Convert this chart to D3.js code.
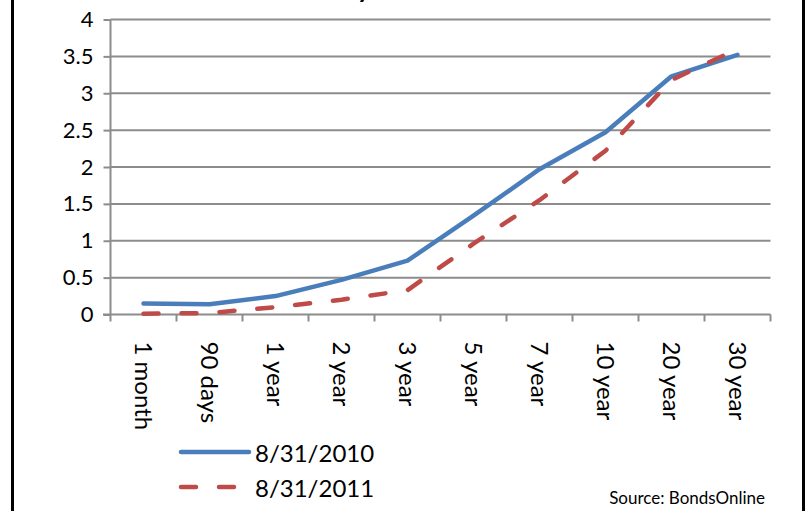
<!DOCTYPE html>
<html>
<head>
<meta charset="utf-8">
<script src="https://cdn.jsdelivr.net/npm/d3@7"></script>
<style>
  body { margin: 0; background: #fff; }
  text { font-family: Lato, "Open Sans", sans-serif; fill: #000; }
</style>
</head>
<body>
<script>
// treasury yields
var maturities = ["1 month", "90 days", "1 year", "2 year", "3 year", "5 year", "7 year", "10 year", "20 year", "30 year"];
var yields2010 = [0.15, 0.14, 0.25, 0.47, 0.73, 1.34, 1.97, 2.47, 3.23, 3.52];
var yields2011 = [0.01, 0.02, 0.10, 0.20, 0.33, 0.96, 1.55, 2.22, 3.18, 3.60];
var yTicks = [0, 0.5, 1, 1.5, 2, 2.5, 3, 3.5, 4];
var seriesNames = ["8/31/2010", "8/31/2011"];

var W = 805, H = 511;
var svg = d3.select("body").append("svg")
  .attr("width", W)
  .attr("height", H);

// outer frame, only left and right edges are inside the picture
svg.append("rect").attr("x", 11).attr("y", 0).attr("width", 3).attr("height", H).attr("fill", "#000");
svg.append("rect").attr("x", 802).attr("y", 0).attr("width", 3).attr("height", H).attr("fill", "#000");

var x = d3.scaleBand()
  .domain(maturities)
  .range([110.5, 770.5]);

var y = d3.scaleLinear()
  .domain([0, 4])
  .range([314.5, 19.5]);

// title, almost all of it above the top of the picture
var title = svg.append("text")
  .attr("y", -2)
  .style("font-size", "26px")
  .style("font-weight", "bold")
  .text("Treasury Yield Curve");
// put the y of "Treasury" where the cut-off descender shows
var wT = title.node().getSubStringLength(0, 7);
title.attr("x", 357 - wT);

// gridlines
svg.append("g")
  .selectAll("line")
  .data(yTicks.slice(1))
  .enter().append("line")
  .attr("x1", 110.5)
  .attr("x2", 770.5)
  .attr("y1", d => y(d))
  .attr("y2", d => y(d))
  .attr("stroke", "#8c8c8c")
  .attr("stroke-width", 2);

// y axis
var yAxis = d3.axisLeft(y)
  .tickValues(yTicks)
  .tickSize(7)
  .tickPadding(10)
  .tickFormat(d3.format("~g"));

var gy = svg.append("g")
  .attr("transform", "translate(110.5,0)")
  .call(yAxis);
gy.select(".domain").attr("stroke", "#8c8c8c").attr("stroke-width", 2).attr("d", "M0," + y(4) + "V" + y(0));
gy.selectAll(".tick line").attr("stroke", "#8c8c8c").attr("stroke-width", 2);
gy.selectAll(".tick text")
  .style("font-family", "Lato, sans-serif")
  .style("font-size", "22px")
  .attr("fill", "#000");

// x axis, ticks between categories
var gx = svg.append("g")
  .attr("transform", "translate(0," + y(0) + ")");
gx.append("line")
  .attr("x1", 103).attr("x2", 770.5)
  .attr("stroke", "#8c8c8c").attr("stroke-width", 2);
var bounds = maturities.map(d => x(d)).concat([x.range()[1]]);
gx.selectAll(".xtick")
  .data(bounds)
  .enter().append("line")
  .attr("class", "xtick")
  .attr("x1", d => d).attr("x2", d => d)
  .attr("y1", 0).attr("y2", 7)
  .attr("stroke", "#8c8c8c").attr("stroke-width", 2);

gx.selectAll(".xlab")
  .data(maturities)
  .enter().append("text")
  .attr("class", "xlab")
  .attr("transform", d => "translate(" + (x(d) + x.bandwidth() / 2) + ",27) rotate(90)")
  .attr("dy", "0.35em")
  .style("font-size", "24px")
  .text(d => d);

// lines
var line = d3.line()
  .x((d, i) => x(maturities[i]) + x.bandwidth() / 2)
  .y(d => y(d));

svg.append("path")
  .datum(yields2010)
  .attr("d", line)
  .attr("fill", "none")
  .attr("stroke", "#4a7ebb")
  .attr("stroke-width", 4.5)
  .attr("stroke-linecap", "round")
  .attr("stroke-linejoin", "round");

svg.append("path")
  .datum(yields2011)
  .attr("d", line)
  .attr("fill", "none")
  .attr("stroke", "#be4b48")
  .attr("stroke-width", 4.5)
  .attr("stroke-dasharray", "15 23")
  .attr("stroke-linecap", "round")
  .attr("stroke-linejoin", "round");

// legend
var legend = svg.append("g");
var legendRows = [
  { name: seriesNames[0], color: "#4a7ebb", dash: null, ly: 452 },
  { name: seriesNames[1], color: "#be4b48", dash: "15 23", ly: 487 }
];
legendRows.forEach(function(r) {
  legend.append("line")
    .attr("x1", 181).attr("x2", 249)
    .attr("y1", r.ly).attr("y2", r.ly)
    .attr("stroke", r.color)
    .attr("stroke-width", 4.5)
    .attr("stroke-linecap", "round")
    .attr("stroke-dasharray", r.dash);
  legend.append("text")
    .attr("x", 255)
    .attr("y", r.ly + 10)
    .style("font-size", "24px")
    .text(r.name);
});

svg.append("text")
  .attr("x", 765)
  .attr("y", 504)
  .attr("text-anchor", "end")
  .style("font-size", "17px")
  .text("Source: BondsOnline");
</script>
</body>
</html>
